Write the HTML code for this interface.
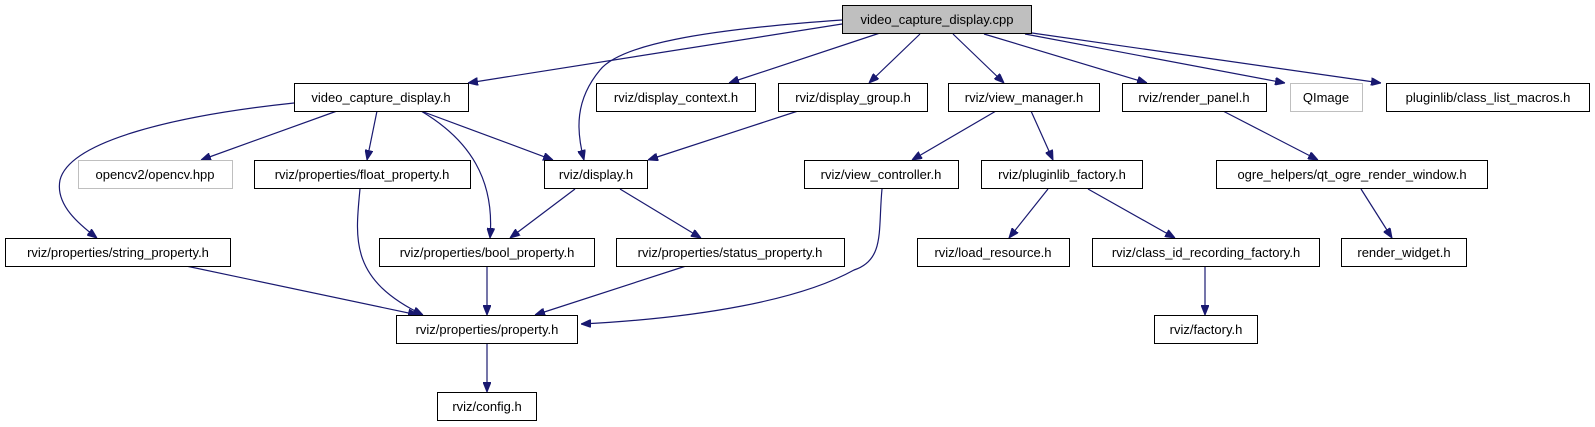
<!DOCTYPE html>
<html><head><meta charset="utf-8"><style>
html,body{margin:0;padding:0;background:#fff;}
svg{display:block;}
text{font-family:"Liberation Sans","DejaVu Sans",sans-serif;font-size:13px;fill:#000;}
</style></head><body>
<svg width="1595" height="427" viewBox="0 0 1595 427" xmlns="http://www.w3.org/2000/svg">
<defs>
<marker id="a" viewBox="0 0 10 8" refX="10" refY="4" markerWidth="10" markerHeight="8" markerUnits="userSpaceOnUse" orient="auto">
<path d="M0,0 L10,4 L0,8 Z" fill="#191970" stroke="#191970"/>
</marker>
</defs>
<g fill="none" stroke="#191970" stroke-width="1.2" marker-end="url(#a)">
<path d="M842,24 L468,83"/>
<path d="M842,20 C700,30 620,45 600,70 C575,100 576,130 584,160"/>
<path d="M880,33 L729,83"/>
<path d="M920,34 L869,83"/>
<path d="M953,34 L1004,83"/>
<path d="M984,34 L1147,83"/>
<path d="M1025,34 L1285,83"/>
<path d="M1032,33 L1381,83"/>
<path d="M294,103 C180,115 70,140 60,180 C55,205 80,225 97,238"/>
<path d="M337,111 L201,160"/>
<path d="M377,111 L367,160"/>
<path d="M421,111 C470,140 495,180 490,238"/>
<path d="M421,111 L553,160"/>
<path d="M798,111 L648,160"/>
<path d="M575,189 L510,238"/>
<path d="M620,189 L701,238"/>
<path d="M360,189 C355,240 350,280 423,315"/>
<path d="M186,266 L418,315"/>
<path d="M487,266 L487,315"/>
<path d="M686,266 L535,315"/>
<path d="M882,189 C878,230 885,260 854,270 C800,300 700,318 581,324"/>
<path d="M487,343 L487,392"/>
<path d="M996,111 L912,160"/>
<path d="M1031,111 L1053,160"/>
<path d="M1223,111 L1318,160"/>
<path d="M1048,189 L1009,238"/>
<path d="M1088,189 L1175,238"/>
<path d="M1361,189 L1392,238"/>
<path d="M1205,266 L1205,315"/>
</g>
<g stroke="#000" stroke-width="1" fill="#fff">
<rect x="842.5" y="5.5" width="189" height="28" fill="#bfbfbf"/>
<rect x="294.5" y="83.5" width="174" height="28"/>
<rect x="596.5" y="83.5" width="159" height="28"/>
<rect x="778.5" y="83.5" width="149" height="28"/>
<rect x="948.5" y="83.5" width="151" height="28"/>
<rect x="1122.5" y="83.5" width="144" height="28"/>
<rect x="1290.5" y="83.5" width="72" height="28" stroke="#bfbfbf"/>
<rect x="1386.5" y="83.5" width="203" height="28"/>
<rect x="78.5" y="160.5" width="154" height="28" stroke="#bfbfbf"/>
<rect x="254.5" y="160.5" width="216" height="28"/>
<rect x="544.5" y="160.5" width="103" height="28"/>
<rect x="804.5" y="160.5" width="154" height="28"/>
<rect x="981.5" y="160.5" width="161" height="28"/>
<rect x="1216.5" y="160.5" width="271" height="28"/>
<rect x="5.5" y="238.5" width="225" height="28"/>
<rect x="379.5" y="238.5" width="215" height="28"/>
<rect x="616.5" y="238.5" width="228" height="28"/>
<rect x="917.5" y="238.5" width="152" height="28"/>
<rect x="1092.5" y="238.5" width="227" height="28"/>
<rect x="1341.5" y="238.5" width="125" height="28"/>
<rect x="396.5" y="315.5" width="181" height="28"/>
<rect x="1154.5" y="315.5" width="103" height="28"/>
<rect x="437.5" y="392.5" width="99" height="28"/>
</g>
<g text-anchor="middle">
<text x="937" y="24">video_capture_display.cpp</text>
<text x="381" y="102">video_capture_display.h</text>
<text x="676" y="102">rviz/display_context.h</text>
<text x="853" y="102">rviz/display_group.h</text>
<text x="1024" y="102">rviz/view_manager.h</text>
<text x="1194" y="102">rviz/render_panel.h</text>
<text x="1326" y="102" style="fill:#000">QImage</text>
<text x="1488" y="102">pluginlib/class_list_macros.h</text>
<text x="155" y="179">opencv2/opencv.hpp</text>
<text x="362" y="179">rviz/properties/float_property.h</text>
<text x="596" y="179">rviz/display.h</text>
<text x="881" y="179">rviz/view_controller.h</text>
<text x="1062" y="179">rviz/pluginlib_factory.h</text>
<text x="1352" y="179">ogre_helpers/qt_ogre_render_window.h</text>
<text x="118" y="257">rviz/properties/string_property.h</text>
<text x="487" y="257">rviz/properties/bool_property.h</text>
<text x="730" y="257">rviz/properties/status_property.h</text>
<text x="993" y="257">rviz/load_resource.h</text>
<text x="1206" y="257">rviz/class_id_recording_factory.h</text>
<text x="1404" y="257">render_widget.h</text>
<text x="487" y="334">rviz/properties/property.h</text>
<text x="1206" y="334">rviz/factory.h</text>
<text x="487" y="411">rviz/config.h</text>
</g>
</svg>
</body></html>
